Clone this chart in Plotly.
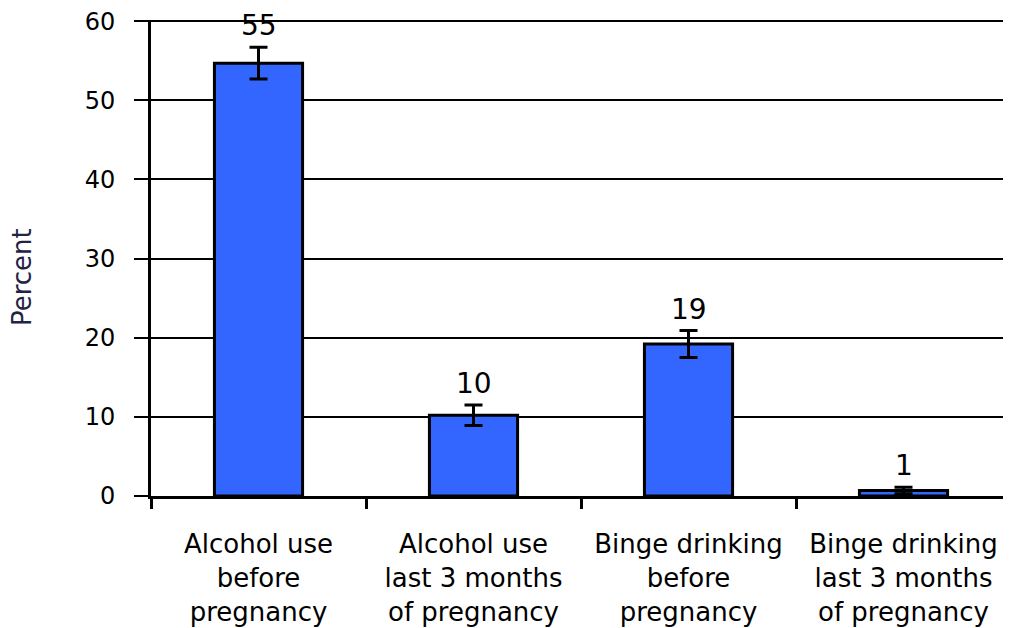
import plotly.graph_objects as go

categories = ["Alcohol use<br>before<br>pregnancy",
              "Alcohol use<br>last 3 months<br>of pregnancy",
              "Binge drinking<br>before<br>pregnancy",
              "Binge drinking<br>last 3 months<br>of pregnancy"]
values = [54.7, 10.2, 19.2, 0.7]
errors = [2.0, 1.3, 1.7, 0.4]
labels = ["55", "10", "19", "1"]
y_ticks = [0, 10, 20, 30, 40, 50, 60]

FONT = "DejaVu Sans"

fig = go.Figure()
fig.add_trace(go.Bar(
    x=categories, y=values,
    marker=dict(color="#3366FF", line=dict(color="black", width=3)),
    error_y=dict(type="data", array=errors, visible=True,
                 color="black", thickness=3, width=9),
    showlegend=False,
))

for c, v, e, t in zip(categories, values, errors, labels):
    fig.add_annotation(x=c, y=v + e, text=t, showarrow=False,
                       yanchor="bottom", yshift=3,
                       font=dict(family=FONT, size=28, color="black"))

fig.add_annotation(xref="paper", yref="paper", x=-0.1500, y=0.46,
                   xanchor="center", yanchor="middle", text="Percent",
                   textangle=-90, showarrow=False,
                   font=dict(family=FONT, size=26, color="#222244"))

fig.update_layout(
    width=1011, height=628,
    margin=dict(l=143, r=8, t=12, b=140),
    paper_bgcolor="white", plot_bgcolor="white",
    bargap=0.59,
    font=dict(family=FONT, color="black"),
)
fig.update_yaxes(range=[0, 60.15], tickvals=y_ticks, showgrid=True,
                 gridcolor="black", gridwidth=2,
                 showline=True, linecolor="black", linewidth=3,
                 ticks="outside", ticklen=14, tickwidth=2, tickcolor="black",
                 ticklabelstandoff=14, automargin=False,
                 ticklabeloverflow="allow",
                 tickfont=dict(family=FONT, size=24, color="black"),
                 zeroline=False)
fig.update_xaxes(showline=True, linecolor="black", linewidth=3,
                 ticks="outside", tickson="boundaries", ticklen=10,
                 tickwidth=3, tickcolor="black",
                 ticklabelstandoff=23, automargin=False,
                 ticklabeloverflow="allow",
                 tickfont=dict(family=FONT, size=26, color="black"))

fig.write_html("out.html")
